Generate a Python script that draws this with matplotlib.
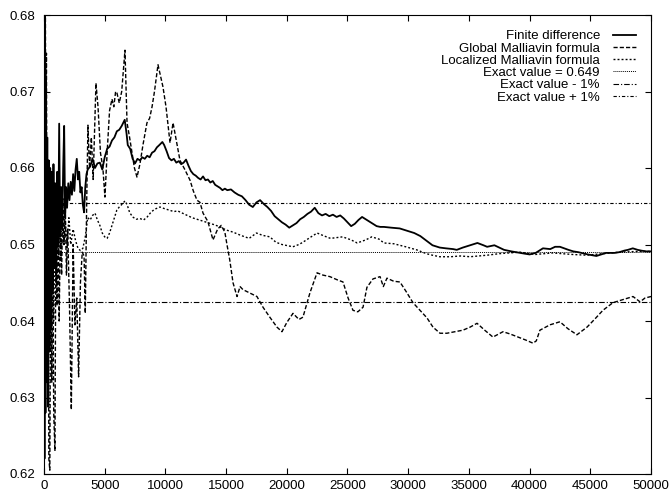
import matplotlib.pyplot as plt

plt.rcParams['font.family'] = ['Liberation Sans', 'DejaVu Sans']

# valeur exacte et bornes +/- 1%
exact_value = 0.649
band = 0.01

# Finite difference
fd_x = [0, 40, 80, 120, 170, 220, 270, 330, 390, 450, 510, 570, 640, 710, 780, 850,
        930, 1010, 1090, 1170, 1250, 1330, 1420, 1500, 1580, 1660, 1740, 1820, 1900,
        2000, 2100, 2200, 2300, 2400, 2500, 2600, 2700, 2800, 2900, 3000, 3100, 3200,
        3300, 3400, 3500, 3600, 3800, 4000, 4200, 4400, 4600, 4800, 5000, 5200, 5400,
        5600, 5800, 6000, 6200, 6400, 6650, 6800, 6900, 7100, 7300, 7500, 7700, 7900,
        8100, 8300, 8500, 8700, 8900, 9100, 9300, 9500, 9750, 9900, 10100, 10300,
        10500, 10700, 10900, 11100, 11300, 11500, 11700, 11900, 12100, 12300, 12500,
        12700, 12900, 13100, 13300, 13500, 13700, 13900, 14100, 14300, 14500, 14700,
        14900, 15100, 15400, 15700, 16000, 16300, 16600, 16900, 17200, 17500, 17800,
        18100, 18400, 18700, 19000, 19300, 19600, 19900, 20200, 20500, 20800, 21100,
        21400, 21700, 22000, 22300, 22600, 22900, 23200, 23500, 23800, 24100, 24400,
        24700, 25000, 25300, 25600, 25900, 26200, 26500, 26800, 27100, 27400, 27700,
        28000, 28600, 29300, 29900, 30500, 31000, 31500, 32000, 32600, 33100, 33700,
        34000, 34500, 35100, 35700, 36200, 36500, 37100, 37500, 37900, 38500, 39200,
        39600, 40000, 40500, 41100, 41700, 42100, 42500, 43200, 43600, 44000, 44800,
        45500, 45900, 46300, 47000, 47400, 47800, 48100, 48500, 48900, 49200, 49600,
        50000]
fd_y = [0.690, 0.622, 0.680, 0.628, 0.672, 0.632, 0.664, 0.6288, 0.661, 0.636, 0.660,
        0.639, 0.6595, 0.644, 0.6605, 0.647, 0.658, 0.645, 0.6595, 0.650, 0.6658, 0.651,
        0.6575, 0.652, 0.660, 0.6655, 0.6535, 0.6575, 0.6548, 0.658, 0.6558, 0.6582,
        0.6565, 0.6592, 0.657, 0.6598, 0.6612, 0.6585, 0.6595, 0.6568, 0.6575, 0.6552,
        0.6542, 0.6575, 0.6592, 0.6598, 0.6602, 0.6612, 0.6600, 0.6606, 0.6607, 0.6598,
        0.6614, 0.6625, 0.6628, 0.6636, 0.6640, 0.6648, 0.6650, 0.6655, 0.6663, 0.6645,
        0.6630, 0.6625, 0.6612, 0.6606, 0.6612, 0.6610, 0.6614, 0.6612, 0.6616, 0.6614,
        0.6620, 0.6622, 0.6627, 0.6630, 0.6634, 0.6630, 0.6622, 0.6613, 0.6610, 0.6612,
        0.6607, 0.6609, 0.6605, 0.6607, 0.6611, 0.6603, 0.6596, 0.6592, 0.6590, 0.6587,
        0.6585, 0.6589, 0.6584, 0.6585, 0.6581, 0.6583, 0.6578, 0.6576, 0.6574, 0.6571,
        0.6573, 0.6571, 0.6572, 0.6568, 0.6565, 0.6563, 0.6558, 0.6552, 0.6549, 0.6555,
        0.6558, 0.6553, 0.6549, 0.6544, 0.6537, 0.6533, 0.6529, 0.6526, 0.6522, 0.6525,
        0.6528, 0.6533, 0.6536, 0.6540, 0.6543, 0.6548, 0.6541, 0.6538, 0.6540, 0.6537,
        0.6539, 0.6536, 0.6538, 0.6534, 0.6529, 0.6524, 0.6527, 0.6532, 0.6536, 0.6533,
        0.6530, 0.6527, 0.6524, 0.6523, 0.6523, 0.6522, 0.6521, 0.6518, 0.6515, 0.6511,
        0.6505, 0.6499, 0.6496, 0.6495, 0.6494, 0.6493, 0.6496, 0.6499, 0.6502, 0.6499,
        0.6497, 0.6499, 0.6496, 0.6493, 0.6491, 0.6489, 0.6488, 0.6487, 0.6489, 0.6495,
        0.6494, 0.6497, 0.6497, 0.6493, 0.6491, 0.6490, 0.6487, 0.6485, 0.6487, 0.6489,
        0.6489, 0.6490, 0.6492, 0.6493, 0.6495, 0.6493, 0.6492, 0.6491, 0.6491]

# Global Malliavin formula
gm_x = [0, 50, 100, 150, 200, 260, 330, 400, 480, 560, 640, 720, 800, 900, 980, 1080,
        1150, 1250, 1350, 1450, 1550, 1650, 1750, 1850, 1950, 2100, 2250, 2400, 2550,
        2700, 2850, 3000, 3150, 3300, 3400, 3520, 3620, 3750, 3900, 4050, 4280, 4450,
        4650, 4850, 5020, 5200, 5400, 5600, 5750, 5900, 6010, 6200, 6400, 6670, 6840,
        7050, 7250, 7450, 7660, 7900, 8150, 8480, 8700, 8900, 9100, 9390, 9600, 9800,
        10050, 10380, 10630, 10850, 11200, 11600, 12030, 12300, 12600, 12850, 13100,
        13500, 13920, 14300, 14600, 14900, 15070, 15300, 15570, 15900, 16150, 16390,
        16900, 17540, 18040, 18600, 19190, 19600, 20000, 20510, 21000, 21330, 21910,
        22490, 22980, 23550, 24130, 24630, 25050, 25450, 25850, 26280, 26600, 27100,
        27680, 27950, 28250, 28800, 29320, 29850, 30390, 30970, 31550, 32040, 32620,
        33190, 33850, 34510, 35100, 35670, 36300, 36980, 37810, 38400, 39210, 39700,
        40280, 40550, 40850, 41680, 42500, 43150, 43900, 44730, 45400, 46040, 46870,
        47700, 48520, 49100, 49500, 50000]
gm_y = [0.680, 0.640, 0.690, 0.660, 0.675, 0.640, 0.660, 0.622, 0.6205, 0.654, 0.632,
        0.652, 0.628, 0.623, 0.652, 0.642, 0.656, 0.640, 0.653, 0.646, 0.656, 0.650,
        0.655, 0.646, 0.652, 0.642, 0.6284, 0.650, 0.6395, 0.643, 0.6327, 0.645, 0.649,
        0.6485, 0.641, 0.6560, 0.6656, 0.6600, 0.6640, 0.6585, 0.6711, 0.6680, 0.6620,
        0.6600, 0.6562, 0.6620, 0.6675, 0.6690, 0.6680, 0.6700, 0.6698, 0.6685, 0.6700,
        0.6754, 0.6659, 0.6640, 0.6620, 0.6600, 0.6588, 0.6605, 0.6630, 0.6659, 0.6665,
        0.6680, 0.6700, 0.6735, 0.6720, 0.6706, 0.6680, 0.6633, 0.6659, 0.6640, 0.6610,
        0.6598, 0.6584, 0.6570, 0.6558, 0.6555, 0.6541, 0.6530, 0.6506, 0.6520, 0.6525,
        0.6516, 0.6500, 0.6480, 0.6450, 0.6432, 0.6445, 0.6441, 0.6437, 0.6432, 0.6418,
        0.6405, 0.6392, 0.6386, 0.6398, 0.6410, 0.6402, 0.6405, 0.6437, 0.6463, 0.6460,
        0.6458, 0.6454, 0.6451, 0.6430, 0.6414, 0.6412, 0.6418, 0.6444, 0.6455, 0.6458,
        0.6445, 0.6456, 0.6452, 0.6451, 0.6438, 0.6424, 0.6414, 0.6404, 0.6392, 0.6384,
        0.6384, 0.6386, 0.6388, 0.6392, 0.6397, 0.6388, 0.6379, 0.6386, 0.6383, 0.6378,
        0.6375, 0.6371, 0.6374, 0.6388, 0.6395, 0.6399, 0.6390, 0.6382, 0.6392, 0.6403,
        0.6414, 0.6424, 0.6428, 0.6432, 0.6425, 0.6430, 0.6432]

# Localized Malliavin formula
lm_x = [0, 60, 120, 200, 280, 360, 440, 520, 600, 700, 800, 900, 1000, 1100, 1200,
        1300, 1400, 1500, 1600, 1750, 1900, 2050, 2200, 2400, 2600, 2800, 3000, 3200,
        3400, 3600, 3800, 4000, 4200, 4400, 4600, 4800, 5000, 5200, 5400, 5600, 5800,
        6000, 6200, 6450, 6670, 6850, 7050, 7300, 7600, 7900, 8200, 8500, 8800, 9100,
        9550, 9900, 10300, 10700, 11000, 11400, 11800, 12200, 12800, 13400, 14000, 14500,
        15000, 15600, 16200, 16900, 17500, 18000, 18600, 19100, 19600, 20500, 21000,
        21330, 22000, 22500, 23100, 23600, 24600, 25300, 25800, 26500, 27000, 27600,
        28000, 28800, 29300, 29800, 30700, 31500, 32000, 32600, 33500, 34300, 35100,
        36500, 37500, 39200, 40500, 41900, 43500, 44700, 46000, 47400, 49000, 50000]
lm_y = [0.650, 0.662, 0.640, 0.658, 0.645, 0.654, 0.636, 0.653, 0.642, 0.655, 0.640,
        0.651, 0.646, 0.655, 0.648, 0.652, 0.6485, 0.6545, 0.650, 0.653, 0.650, 0.6535,
        0.650, 0.652, 0.6505, 0.6495, 0.6492, 0.6495, 0.651, 0.6535, 0.6532, 0.6538,
        0.6541, 0.6532, 0.6525, 0.6515, 0.6510, 0.6508, 0.6515, 0.6525, 0.6535, 0.6545,
        0.6549, 0.6553, 0.6557, 0.6552, 0.6542, 0.6536, 0.6533, 0.6534, 0.6532, 0.6536,
        0.6542, 0.6546, 0.6549, 0.6547, 0.6545, 0.6543, 0.6544, 0.6541, 0.6538, 0.6535,
        0.6532, 0.6529, 0.6526, 0.6523, 0.6519, 0.6516, 0.6512, 0.6508, 0.6515, 0.6512,
        0.6510, 0.6503, 0.6500, 0.6497, 0.6500, 0.6503, 0.6510, 0.6515, 0.6511, 0.6508,
        0.6510, 0.6506, 0.6502, 0.6506, 0.6510, 0.6507, 0.6502, 0.6501, 0.6499, 0.6497,
        0.6493, 0.6488, 0.6486, 0.6484, 0.6484, 0.6485, 0.6484, 0.6486, 0.6488, 0.6490,
        0.6487, 0.6489, 0.6487, 0.6486, 0.6488, 0.6490, 0.6491, 0.6491]

x_ticks = [0, 5000, 10000, 15000, 20000, 25000, 30000, 35000, 40000, 45000, 50000]
y_ticks = [0.62, 0.63, 0.64, 0.65, 0.66, 0.67, 0.68]

fig = plt.figure(figsize=(6.71, 4.92), dpi=100)
ax = fig.add_axes([44 / 671, 1 - 474 / 492, 607 / 671, 459 / 492])

ax.plot(fd_x, fd_y, color='black', lw=1.3, label='Finite difference')
ax.plot(gm_x, gm_y, color='black', lw=1.0, linestyle=(0, (3.0, 1.5)),
        label='Global Malliavin formula')
ax.plot(lm_x, lm_y, color='black', lw=1.0, linestyle=(0, (1.4, 1.5)),
        label='Localized Malliavin formula')
ax.axhline(exact_value, color='black', lw=0.7, linestyle=(0, (1.0, 1.0)),
           label='Exact value = 0.649')
ax.axhline(exact_value * (1 - band), color='black', lw=0.8,
           linestyle=(0, (5.0, 1.8, 1.0, 1.8)), label='Exact value - 1%')
ax.axhline(exact_value * (1 + band), color='black', lw=0.8,
           linestyle=(0, (3.0, 1.8, 1.0, 1.8)), label='Exact value + 1%')

ax.set_xlim(0, 50000)
ax.set_ylim(0.62, 0.68)
ax.set_xticks(x_ticks)
ax.set_xticklabels([str(t) for t in x_ticks])
ax.set_yticks(y_ticks)
ax.set_yticklabels(['%.2f' % t for t in y_ticks])
ax.tick_params(direction='in', length=4, width=0.8, top=True, right=True,
               labelsize=9.5)
ax.tick_params(axis='x', pad=4.5)
ax.tick_params(axis='y', pad=6)
for s in ax.spines.values():
    s.set_linewidth(0.8)

leg = ax.legend(loc='upper right', frameon=False, markerfirst=False,
                fontsize=9.5, handlelength=1.75, handletextpad=1.0,
                labelspacing=0.0, borderaxespad=0.4,
                bbox_to_anchor=(0.993, 0.99))

fig.savefig('out.png', dpi=100)
